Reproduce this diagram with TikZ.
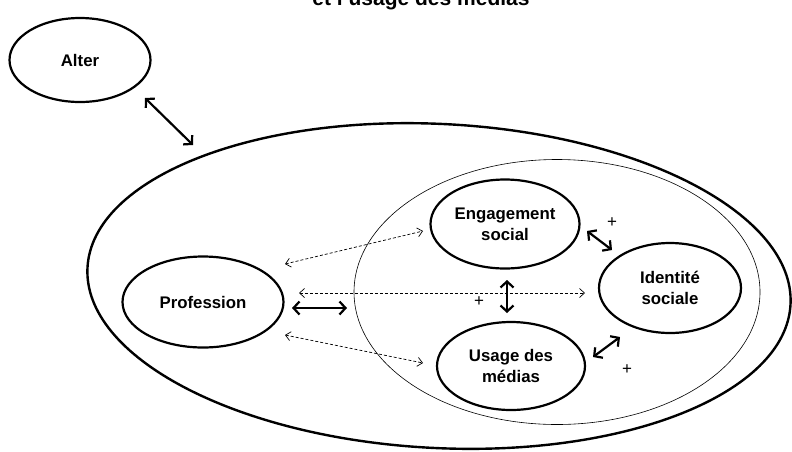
\documentclass[tikz,border=0pt]{standalone}
\usepackage{fontspec}
\setmainfont{Liberation Sans}
\usetikzlibrary{shapes.geometric,arrows.meta}
\begin{document}
\begin{tikzpicture}[x=1pt,y=-1pt,
  ell/.style={draw, ellipse, line width=2.2pt, inner sep=0pt, align=center,
    font=\fontsize{16.8}{21}\selectfont\bfseries},
  frame/.style={draw, ellipse, inner sep=0pt},
  thickarr/.style={line width=2.2pt,
    {Straight Barb[length=6pt,width=13pt]}-{Straight Barb[length=6pt,width=13pt]}},
  dasharr/.style={line width=0.7pt, dash pattern=on 3pt off 2pt,
    {Straight Barb[length=5pt,width=9pt]}-{Straight Barb[length=5pt,width=9pt]}},
  plus/.style={font=\fontsize{17}{17}\selectfont, inner sep=0pt}
]
\useasboundingbox (0,0) rectangle (792,451);
% title (cut off at the top, as in the reference)
\node[anchor=base, font=\fontsize{21}{21}\selectfont\bfseries, inner sep=0pt] (title) at (421,5) {et l’usage des médias};
% frames
\node[frame, line width=2.4pt, minimum width=704pt, minimum height=324pt, rotate=-3] (big) at (439,286) {};
\node[frame, line width=0.6pt, minimum width=406pt, minimum height=265pt] (inner) at (557,292) {};
% nodes
\node[ell, minimum width=141pt, minimum height=84pt] (alter) at (80,60) {Alter};
\node[ell, minimum width=161pt, minimum height=91pt] (prof) at (203,302) {Profession};
\node[ell, minimum width=149pt, minimum height=89pt] (eng) at (505,224) {Engagement\\social};
\node[ell, minimum width=142pt, minimum height=90pt] (ident) at (670,288) {Identité\\sociale};
\node[ell, minimum width=148pt, minimum height=88pt] (usage) at (511,366) {Usage des\\médias};
% arrow ends
\coordinate (a1) at (145,98);  \coordinate (a2) at (193,145);
\coordinate (p1) at (292,308); \coordinate (p2) at (347,308);
\coordinate (d1) at (285,264); \coordinate (d2) at (423,231);
\coordinate (m1) at (299,293); \coordinate (m2) at (585,293);
\coordinate (l1) at (285,335); \coordinate (l2) at (423,363);
\coordinate (v1) at (507,280); \coordinate (v2) at (507,313);
\coordinate (e1) at (587,231); \coordinate (e2) at (612,250);
\coordinate (u1) at (593,357); \coordinate (u2) at (620,337);
% connectors
\draw[thickarr] (a1) -- (a2);
\draw[thickarr] (p1) -- (p2);
\draw[dasharr] (d1) -- (d2);
\draw[dasharr] (m1) -- (m2);
\draw[dasharr] (l1) -- (l2);
\draw[thickarr] (v1) -- (v2);
\draw[thickarr] (e1) -- (e2);
\draw[thickarr] (u1) -- (u2);
% plus signs
\node[plus] (pl1) at (612,223) {+};
\node[plus] (pl2) at (479,302) {+};
\node[plus] (pl3) at (627,370) {+};
\end{tikzpicture}
\end{document}
